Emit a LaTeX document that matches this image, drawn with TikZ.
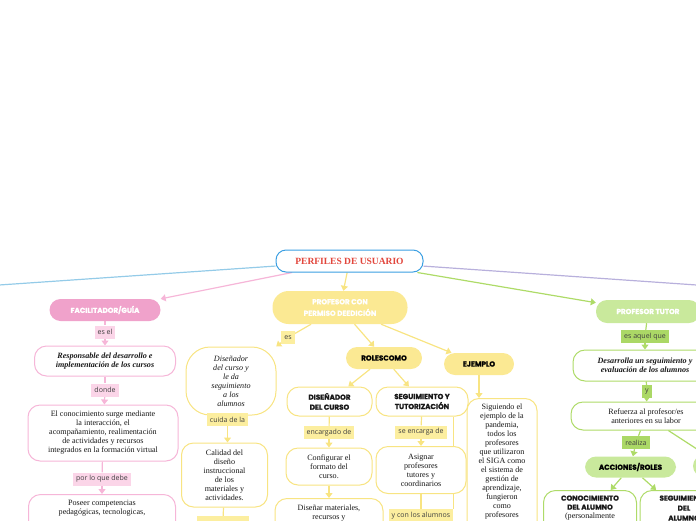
\documentclass[tikz,border=0pt]{standalone}
\usepackage{fontspec}
\setmainfont{Liberation Serif}
\newfontfamily\headfont{Poppins}[BoldFeatures={FakeBold=1.2}]
\newfontfamily\labelfont{Open Sans}
\usepackage{xcolor}
\usepackage{tikz}
\usetikzlibrary{arrows.meta, backgrounds, calc}

\definecolor{rootblue}{HTML}{3B9FE2}
\definecolor{titlered}{HTML}{E2463C}
\definecolor{lineblue}{HTML}{94CBE8}
\definecolor{linepurple}{HTML}{B8B0DC}
\definecolor{pinkfill}{HTML}{F0A2CB}
\definecolor{pinkline}{HTML}{F6B6D8}
\definecolor{pinklab}{HTML}{FBD5E8}
\definecolor{yelfill}{HTML}{FBE993}
\definecolor{yelline}{HTML}{F8E482}
\definecolor{yellab}{HTML}{FCEE9F}
\definecolor{grnfill}{HTML}{C9E99C}
\definecolor{grnline}{HTML}{AEDB68}
\definecolor{grnlab}{HTML}{ABD866}

\newcommand\bodysize{\fontsize{8.1}{9}\selectfont}
\newcommand\headsize{\headfont\bfseries\fontsize{7.2}{10}\selectfont}

\begin{document}
\begin{tikzpicture}[x=1pt, y=-1pt,
    headnode/.style={fill=#1, rounded corners=11pt, align=center, inner sep=0pt, font=\headsize},
    textbox/.style={draw=#1, fill=white, line width=1pt, rounded corners=12pt, align=center, inner sep=0pt, font=\bodysize, text=black!90},
    tag/.style={fill=#1, inner xsep=3pt, inner ysep=0pt, minimum height=13, font=\labelfont\fontsize{7}{8}\selectfont, text=black!75},
    link/.style={draw=#1, line width=1.2pt},
    arr/.style={draw=#1, line width=1.2pt, -{Triangle[width=7pt,length=5pt]}}]
    \useasboundingbox (0,0) rectangle (696,520);
    \clip (0,0) rectangle (696,520);

    % Root
    \node[draw=rootblue, fill=white, line width=1pt, rounded corners=10pt, minimum width=147, minimum height=22,
          font=\bfseries\fontsize{9.5}{10}\selectfont, text=titlered] (root) at (349.5,261) {PERFILES DE USUARIO};
    \coordinate (offleft) at (-30,287);
    \coordinate (offright) at (740,288);

    % Facilitador/guia (pink)
    \node[headnode=pinkfill, text=white, minimum width=111, minimum height=22] (facil) at (105,310) {FACILITADOR/GUÍA};
    \node[tag=pinklab] (esel) at (105,332) {es el};
    \node[textbox=pinkline, minimum width=141, minimum height=30, font=\bodysize\bfseries\itshape] (resp) at (105,361)
        {Responsable del desarrollo e\\implementación de los cursos};
    \node[tag=pinklab] (donde) at (105,390) {donde};
    \node[textbox=pinkline, minimum width=150, minimum height=56] (conoc) at (103,433)
        {El conocimiento surge mediante\\la interacción, el\\acompañamiento, realimentación\\de actividades y recursos\\integrados en la formación virtual};
    \node[tag=pinklab] (debe) at (102,479) {por lo que debe};
    \node[textbox=pinkline, minimum width=147, anchor=north, inner ysep=6pt, text depth=24pt] (poseer) at (102,494)
        {Poseer competencias\\pedagógicas, tecnologicas,};

    % Profesor con permiso de edicion (yellow)
    \node[headnode=yelfill, text=white, minimum width=135, minimum height=33, rounded corners=16pt,
          font=\headfont\bfseries\fontsize{7.2}{11.5}\selectfont] (perm) at (340,307.5) {PROFESOR CON\\PERMISO DEEDICIÓN};
    \node[tag=yellab] (es) at (288,337.5) {es};
    \node[textbox=yelline, minimum width=90, minimum height=68, rounded corners=24pt, font=\bodysize\itshape] (disen) at (231,381)
        {Diseñador\\del curso y\\le da\\seguimiento\\a los\\alumnos};
    \node[tag=yellab] (cuida) at (227.5,419.5) {cuida de la};
    \node[textbox=yelline, minimum width=86, minimum height=64] (calid) at (224.5,475)
        {Calidad del\\diseño\\instruccional\\de los\\materiales y\\actividades.};
    \node[tag=yellab, minimum width=52, anchor=north] (calidtag) at (223,516) {};

    \node[headnode=yelfill, minimum width=76, minimum height=22] (roles) at (384,358) {ROLESCOMO};
    \node[headnode=yelfill, minimum width=70, minimum height=22] (ejem) at (479,364) {EJEMPLO};

    \node[textbox=yelline, minimum width=85, minimum height=29, font=\headsize] (dcurso) at (329.5,401.5) {DISEÑADOR\\DEL CURSO};
    \node[tag=yellab] (encdo) at (329,432.5) {encargado de};
    \node[textbox=yelline, minimum width=86, minimum height=37] (config) at (329,466.5) {Configurar el\\formato del\\curso.};
    \node[textbox=yelline, minimum width=108, anchor=north, inner ysep=6pt, text depth=20pt] (disnr) at (329,498)
        {Diseñar materiales,\\recursos y};

    \node[textbox=yelline, minimum width=92, minimum height=29, font=\headsize] (segui) at (422,401.5) {SEGUIMIENTO Y\\TUTORIZACIÓN};
    \node[tag=yellab] (encga) at (421,432) {se encarga de};
    \node[textbox=yelline, minimum width=90, minimum height=47] (asig) at (421,470) {Asignar\\profesores\\tutores y\\coordinarios};
    \node[tag=yellab, anchor=north] (alum) at (421,509) {y con los alumnos};

    \node[textbox=yelline, minimum width=70, anchor=north, inner ysep=5pt, text depth=14pt] (sigu) at (502,398)
        {Siguiendo el\\ejemplo de la\\pandemia,\\todos los\\profesores\\que utilizaron\\el SIGA como\\el sistema de\\gestión de\\aprendizaje,\\fungieron\\como\\profesores};

    % Profesor tutor (green)
    \node[headnode=grnfill, text=white, minimum width=104, minimum height=23] (tutor) at (648,311.5) {PROFESOR TUTOR};
    \node[tag=grnlab] (aquel) at (645,336.5) {es aquel que};
    \node[textbox=grnline, minimum width=144, minimum height=31, font=\bodysize\bfseries\itshape] (desa) at (645,365.5)
        {Desarrolla un seguimiento y\\evaluación de los alumnos};
    \node[tag=grnlab] (ylab) at (647,391.5) {y};
    \node[textbox=grnline, minimum width=150, minimum height=28] (refu) at (646,416) {Refuerza al profesor/es\\anteriores en su labor};
    \node[tag=grnlab] (realiza) at (636,442.5) {realiza};
    \node[headnode=grnfill, minimum width=91, minimum height=21] (accion) at (630.5,467) {ACCIONES/ROLES};
    \node[headnode=grnfill, minimum width=60, minimum height=22] (accion2) at (723,466) {};
    \node[textbox=grnline, minimum width=93, anchor=north, inner ysep=5pt, text depth=14pt] (conal) at (590,490)
        {{\headsize CONOCIMIENTO}\\{\headsize DEL ALUMNO}\\(personalmente};
    \node[textbox=grnline, minimum width=88, anchor=north, inner ysep=5pt, text depth=14pt, font=\headsize] (segal) at (684,490)
        {SEGUIMIENTO\\DEL\\ALUMNO};

    % Connectors
    \begin{scope}[on background layer]
        \draw[link=lineblue] (root) -- (offleft);
        \draw[link=linepurple] (root) -- (offright);
        \draw[arr=pinkline] (root) -- (facil);
        \draw[arr=yelline] (root) -- (perm);
        \draw[arr=grnline] (root) -- (tutor);

        \draw[link=pinkline] (facil) -- (esel);
        \draw[arr=pinkline] (esel) -- (resp);
        \draw[link=pinkline] (resp) -- (donde);
        \draw[arr=pinkline] (donde) -- (conoc);
        \draw[link=pinkline] (conoc) -- (debe);
        \draw[arr=pinkline] (debe) -- (debe |- poseer.north);

        \draw[link=yelline] (perm) -- (es);
        \draw[arr=yelline] (es) -- (disen);
        \draw[arr=yelline] (cuida) -- (cuida |- calid.north);
        \draw[link=yelline] (calid) -- (calidtag);
        \draw[arr=yelline] (perm) -- (roles);
        \draw[arr=yelline] (perm) -- (ejem);
        \draw[arr=yelline] (roles) -- (dcurso);
        \draw[arr=yelline] (roles) -- (segui);
        \draw[link=yelline] (dcurso) -- (encdo);
        \draw[arr=yelline] (encdo) -- (config);
        \draw[arr=yelline] (config) -- (config |- disnr.north);
        \draw[link=yelline] (segui) -- (encga);
        \draw[arr=yelline] (encga) -- (asig);
        \draw[link=yelline] (asig) -- (asig |- alum.north);
        \draw[link=yelline] (segui.south -| alum.north east) -- (alum.north east);
        \draw[arr=yelline] (ejem) -- (ejem |- sigu.north);

        \draw[link=grnline] (tutor) -- (aquel);
        \draw[arr=grnline] (aquel) -- (desa);
        \draw[link=grnline] (desa) -- (ylab);
        \draw[arr=grnline] (ylab) -- (refu);
        \draw[link=grnline] (refu) -- (realiza);
        \draw[arr=grnline] (realiza) -- (accion);
        \draw[link=grnline] (refu) -- (accion2);
        \draw[arr=grnline] (accion) -- (conal);
        \draw[arr=grnline] (accion) -- (segal);
    \end{scope}
\end{tikzpicture}
\end{document}
